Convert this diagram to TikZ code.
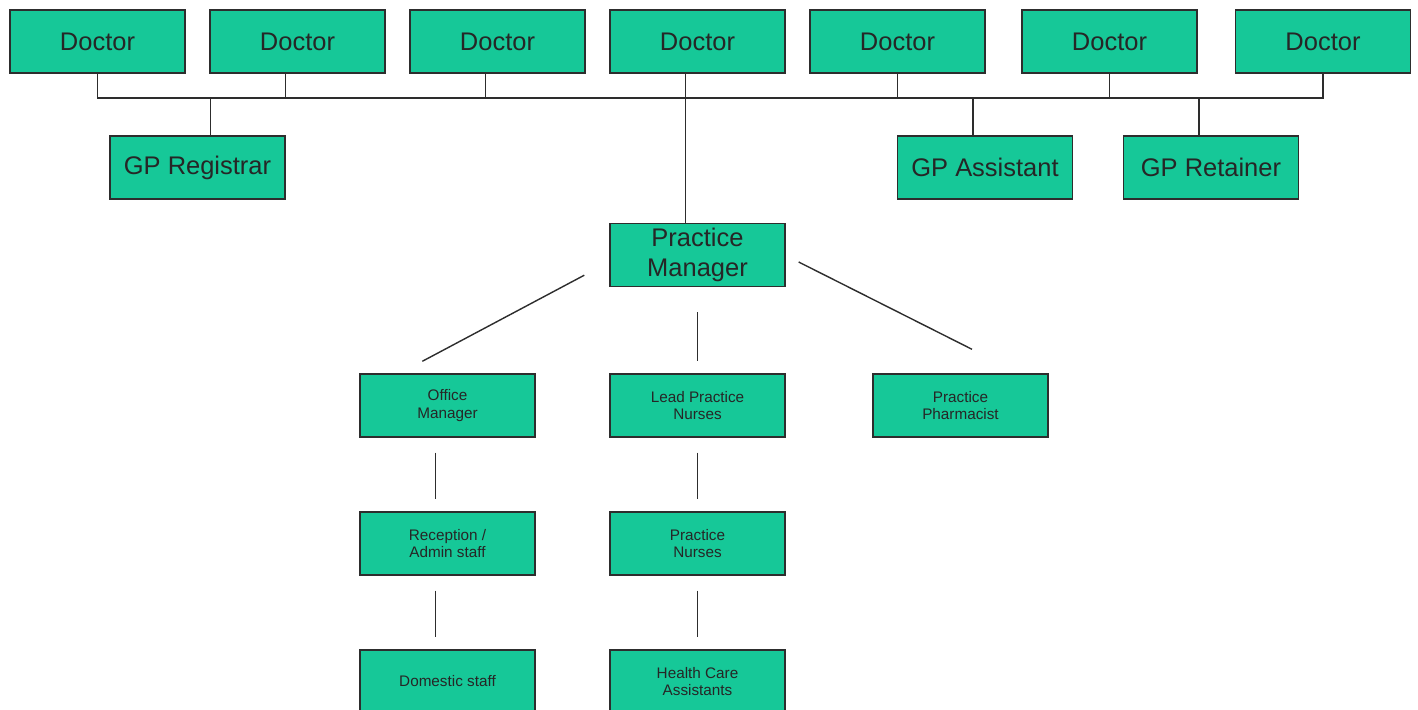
\documentclass[tikz,border=0pt]{standalone}
\usepackage{fontspec}
\setmainfont{Liberation Sans}
\usetikzlibrary{positioning, calc}
\definecolor{boxcolor}{RGB}{22,200,152}
\definecolor{linecolor}{RGB}{45,45,45}

\begin{document}
\begin{tikzpicture}[
    x=0.02cm, y=-0.02cm,
    post/.style={draw=linecolor, line width=0.8pt, fill=boxcolor, minimum width=3.5cm, minimum height=1.26cm, inner sep=1pt, align=center, text=black!85},
    big/.style={post, font=\fontsize{14.5}{17}\selectfont},
    small/.style={post, font=\fontsize{8.7}{10.2}\selectfont},
    link/.style={draw=linecolor, line width=0.8pt}
]
    \useasboundingbox (0,0) rectangle (1418,710);

    % Doctors
    \foreach \i/\x in {1/97.5, 2/297.5, 3/497.5, 4/697.5, 5/897.5, 6/1109.5, 7/1323}
        \node[big] (doc\i) at (\x,41.5) {Doctor};

    % GP roles
    \node[big] (reg) at (197.5,167.5) {GP Registrar};
    \node[big] (asst) at (985,167.5) {GP Assistant};
    \node[big] (ret) at (1211,167.5) {GP Retainer};

    % Practice manager
    \node[big] (pm) at (697.5,255) {Practice\\Manager};

    % Staff
    \node[small] (om) at (447.5,405.5) {Office\\Manager};
    \node[small] (lpn) at (697.5,405.5) {Lead Practice\\Nurses};
    \node[small] (pharm) at (960.5,405.5) {Practice\\Pharmacist};
    \node[small] (rec) at (447.5,543.5) {Reception /\\Admin staff};
    \node[small] (pn) at (697.5,543.5) {Practice\\Nurses};
    \node[small] (dom) at (447.5,681.5) {Domestic staff};
    \node[small] (hca) at (697.5,681.5) {Health Care\\Assistants};

    % Doctor bus
    \coordinate (bus) at (0,98);
    \draw[link] (doc1.south) -- (doc1.south |- bus) -- (doc7.south |- bus) -- (doc7.south);
    \foreach \i/\s in {2/-12, 3/-12, 5/0, 6/0}
        \draw[link] ($(doc\i.south)+(\s,0)$) -- ++(0,25);
    \draw[link] ($(doc4.south)+(-12,0)$) -- ($(pm.north)+(-12,0)$);
    \draw[link] ($(reg.north)+(13,0)$) -- ++(0,-38);
    \draw[link] ($(asst.north)+(-12,0)$) -- ++(0,-38);
    \draw[link] ($(ret.north)+(-12,0)$) -- ++(0,-38);

    % Manager to staff
    \draw[link] ($(pm.south west)+(-25,-12)$) -- ($(om.north west)+(63,-12)$);
    \draw[link] ($(pm.south)+(0,25)$) -- ($(lpn.north)+(0,-12)$);
    \draw[link] ($(pm.east)+(13,7)$) -- ($(pharm.north)+(11.5,-24)$);
    \draw[link] ($(om.south)+(-12,15)$) -- ($(rec.north)+(-12,-12)$);
    \draw[link] ($(rec.south)+(-12,15)$) -- ($(dom.north)+(-12,-12)$);
    \draw[link] ($(lpn.south)+(0,15)$) -- ($(pn.north)+(0,-12)$);
    \draw[link] ($(pn.south)+(0,15)$) -- ($(hca.north)+(0,-12)$);
\end{tikzpicture}
\end{document}
